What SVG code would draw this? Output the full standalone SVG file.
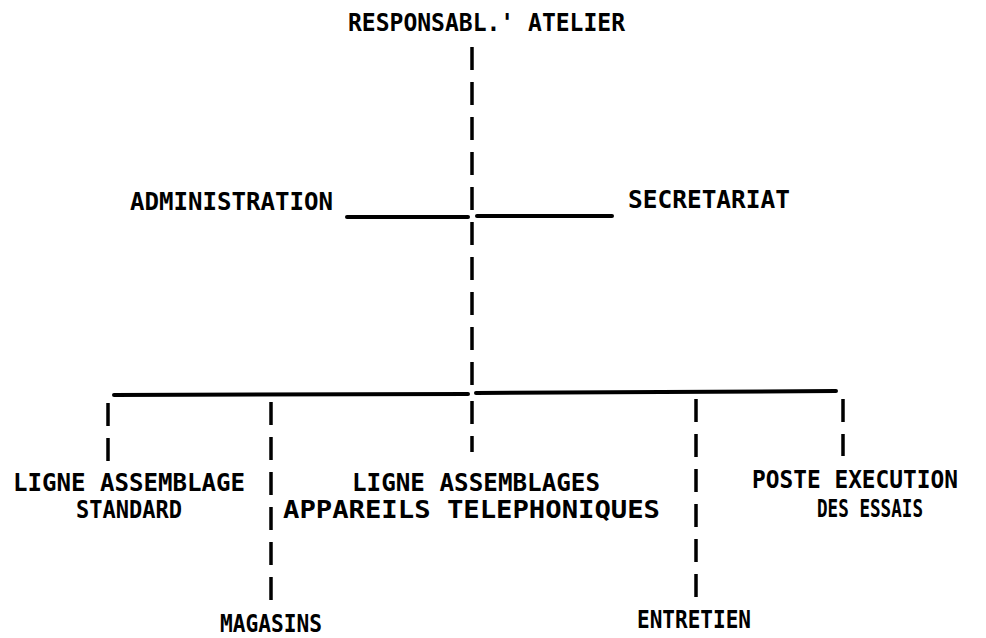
<svg xmlns="http://www.w3.org/2000/svg" width="986" height="638" viewBox="0 0 986 638">
<style>
  text { font-family: "DejaVu Sans Mono", "Liberation Mono", monospace; font-weight: bold; font-size: 24px; fill: #000; }
  .h { stroke: #000; stroke-width: 4; stroke-linecap: round; fill: none; }
  .v { stroke: #000; stroke-width: 3.5; stroke-dasharray: 23 12; fill: none; }
</style>
<rect width="986" height="638" fill="#fff"/>
<g id="connectors">
  <line class="v" x1="472" y1="47" x2="472" y2="390"/>
  <line class="h" x1="347" y1="217" x2="468" y2="217"/>
  <line class="h" x1="477" y1="216" x2="612" y2="216"/>
  <line class="h" x1="114" y1="395" x2="468" y2="394"/>
  <line class="h" x1="476" y1="393" x2="836" y2="391"/>
  <line class="v" x1="108" y1="403" x2="108" y2="462"/>
  <line class="v" x1="271" y1="402" x2="271" y2="600"/>
  <line class="v" x1="472" y1="401" x2="472" y2="452"/>
  <line class="v" x1="696" y1="399" x2="696" y2="598"/>
  <line class="v" x1="843" y1="399" x2="843" y2="456"/>
</g>
<g id="responsable">
  <text x="348" y="31" textLength="277" lengthAdjust="spacingAndGlyphs">RESPONSABL.' ATELIER</text>
</g>
<g id="administration">
  <text x="130" y="210" textLength="203" lengthAdjust="spacingAndGlyphs">ADMINISTRATION</text>
</g>
<g id="secretariat">
  <text x="628" y="208" textLength="162" lengthAdjust="spacingAndGlyphs">SECRETARIAT</text>
</g>
<g id="ligne-standard">
  <text x="13" y="491" textLength="232" lengthAdjust="spacingAndGlyphs">LIGNE ASSEMBLAGE</text>
  <text x="76" y="518" textLength="106" lengthAdjust="spacingAndGlyphs">STANDARD</text>
</g>
<g id="ligne-telephoniques">
  <text x="352" y="491" textLength="248" lengthAdjust="spacingAndGlyphs">LIGNE ASSEMBLAGES</text>
  <text x="283" y="518" textLength="377" lengthAdjust="spacingAndGlyphs">APPAREILS TELEPHONIQUES</text>
</g>
<g id="poste-essais">
  <text x="752" y="488" textLength="206" lengthAdjust="spacingAndGlyphs">POSTE EXECUTION</text>
  <text x="817" y="517" textLength="106" lengthAdjust="spacingAndGlyphs">DES ESSAIS</text>
</g>
<g id="magasins">
  <text x="220" y="632" textLength="102" lengthAdjust="spacingAndGlyphs">MAGASINS</text>
</g>
<g id="entretien">
  <text x="637" y="628" textLength="114" lengthAdjust="spacingAndGlyphs">ENTRETIEN</text>
</g>
</svg>
